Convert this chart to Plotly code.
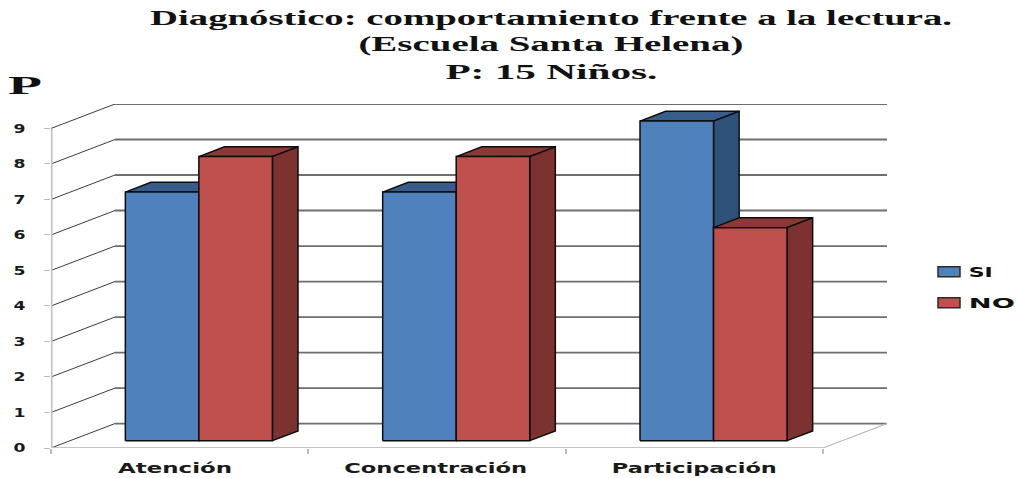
"""
Diagnostico chart: pseudo 3D clustered columns drawn from the data
"""

import json
import plotly.graph_objects as go

categories = ['Atención', 'Concentración', 'Participación']
si_values = [7, 7, 9]
no_values = [8, 8, 6]
y_ticks = [0, 1, 2, 3, 4, 5, 6, 7, 8, 9]

title_lines = [
    'Diagnóstico: comportamiento frente a la lectura.',
    '(Escuela Santa Helena)',
    'P: 15 Niños.',
]

# Page size and plot box in pixels
WIDTH, HEIGHT = 1018, 478
M_L, M_R, M_T, M_B = 51, 131, 104, 29.5

# Depth of the whole chart box, in axis units
DEPTH_X = 64 / 257.3
DEPTH_Y = 24.5 / 35.6
BAR_WIDTH = 1 / 3.5
BAR_MARGIN = (1 - 2 * BAR_WIDTH) / 2
BAR_FRONT = 0.3
BAR_BACK = 0.7

# The source picture is stretched sideways, so text gets stretched to these widths
TEXT_WIDTHS = {
    title_lines[0]: 802,
    title_lines[1]: 385,
    title_lines[2]: 212,
    'P': 34,
    'SI': 24,
    'NO': 46,
    categories[0]: 114,
    categories[1]: 183,
    categories[2]: 165,
}


def px_x(px):
    return (px - M_L) / (WIDTH - M_L - M_R)


def px_y(px):
    return (HEIGHT - M_B - px) / (HEIGHT - M_T - M_B)


def project(x, y, depth):
    return x + depth * DEPTH_X, y + depth * DEPTH_Y


def add_polygon(fig, points, fill, name):
    xs = [p[0] for p in points] + [points[0][0]]
    ys = [p[1] for p in points] + [points[0][1]]
    fig.add_trace(go.Scatter(
        x=xs, y=ys, mode='lines', fill='toself', fillcolor=fill,
        line=dict(color='#0d0d0d', width=1.5),
        name=name, showlegend=False, cliponaxis=False, hoverinfo='skip'
    ))


def add_line(fig, x0, y0, x1, y1, color, width):
    fig.add_trace(go.Scatter(
        x=[x0, x1], y=[y0, y1], mode='lines',
        line=dict(color=color, width=width),
        showlegend=False, cliponaxis=False, hoverinfo='skip'
    ))


def add_column(fig, left, value, front, top, side, name):
    right = left + BAR_WIDTH
    # top and side go first, the front face sits over their edges
    add_polygon(fig, [project(left, value, BAR_FRONT), project(left, value, BAR_BACK),
                      project(right, value, BAR_BACK), project(right, value, BAR_FRONT)], top, name)
    add_polygon(fig, [project(right, 0, BAR_FRONT), project(right, 0, BAR_BACK),
                      project(right, value, BAR_BACK), project(right, value, BAR_FRONT)], side, name)
    add_polygon(fig, [project(left, 0, BAR_FRONT), project(left, value, BAR_FRONT),
                      project(right, value, BAR_FRONT), project(right, 0, BAR_FRONT)], front, name)


def add_text(fig, text, x, y, family, size):
    fig.add_annotation(
        x=px_x(x), y=px_y(y), xref='paper', yref='paper', text=text, showarrow=False,
        xanchor='center', yanchor='middle',
        font=dict(family=family, size=size, color='#111111', weight='bold'),
    )


fig = go.Figure()
n_cat = len(categories)

# Walls
for tick in y_ticks:
    bx, by = project(0, tick, 1)
    add_line(fig, 0, tick, bx, by, '#3c3c3c', 1)
    ex, ey = project(n_cat, tick, 1)
    add_line(fig, bx, by, ex, ey, '#6e6e6e', 1.8)

fx, fy = project(n_cat, 0, 1)
add_line(fig, n_cat, 0, fx, fy, '#bdbdbd', 1.2)
add_line(fig, 0, 0, n_cat, 0, '#c4c4c4', 2)
add_line(fig, 0, 0, 0, max(y_ticks), '#bfbfbf', 3)

# Columns
for i in range(n_cat):
    add_column(fig, i + BAR_MARGIN, si_values[i], '#4f81bd', '#385d8a', '#2f527b', 'SI')
    add_column(fig, i + BAR_MARGIN + BAR_WIDTH, no_values[i], '#c0504d', '#8c3836', '#7b3230', 'NO')

fig.update_layout(
    width=WIDTH,
    height=HEIGHT,
    margin=dict(l=M_L, r=M_R, t=M_T, b=M_B),
    paper_bgcolor='white',
    plot_bgcolor='white',
    showlegend=False,
    xaxis=dict(
        automargin=False,
        range=[0, n_cat + DEPTH_X],
        tickmode='array',
        tickvals=[0.482, 1.495, 2.5],
        ticktext=categories,
        ticks='',
        showgrid=False,
        zeroline=False,
        tickfont=dict(family='DejaVu Sans', size=14, color='#1a1a1a', weight='bold'),
        ticklabelstandoff=10,
        minor=dict(tickmode='array', tickvals=list(range(n_cat + 1)), ticks='outside',
                   ticklen=5, tickcolor='#bdbdbd', tickwidth=1.5, showgrid=False),
    ),
    yaxis=dict(
        automargin=False,
        range=[0, max(y_ticks) + DEPTH_Y],
        tickmode='array',
        tickvals=y_ticks,
        ticks='outside',
        ticklen=6,
        tickcolor='#bdbdbd',
        showgrid=False,
        zeroline=False,
        tickfont=dict(family='DejaVu Sans', size=12, color='#1a1a1a', weight='bold'),
        ticklabelstandoff=16,
    ),
)

# Title lines
for text, y_pos in zip(title_lines, [18, 44, 72]):
    add_text(fig, text, 551, y_pos, 'Liberation Serif', 20)
add_text(fig, 'P', 25, 85.5, 'Liberation Serif', 26)

# Legend
for label, color, y_pos, x_pos in [('SI', '#4f81bd', 272, 980), ('NO', '#c0504d', 303, 992)]:
    fig.add_shape(type='rect', xref='paper', yref='paper', x0=px_x(938), x1=px_x(960),
                  y0=px_y(y_pos - 5), y1=px_y(y_pos + 5), fillcolor=color,
                  line=dict(color='#2b2b2b', width=1.5))
    add_text(fig, label, x_pos, y_pos, 'DejaVu Sans', 14)

# Stretch the texts sideways once plotly has drawn them
post_script = """
var widths = %s;
function stretchText() {
    document.querySelectorAll('.annotation-text, .xtick text, .ytick text').forEach(function (el) {
        var w = widths[el.textContent];
        if (!w && el.closest('.ytick')) { w = 12; }
        if (w) {
            el.setAttribute('textLength', w);
            el.setAttribute('lengthAdjust', 'spacingAndGlyphs');
        }
    });
}
document.body.style.margin = '0';
var gd = document.getElementById('{plot_id}');
gd.on('plotly_afterplot', stretchText);
stretchText();
setTimeout(stretchText, 50);
""" % json.dumps(TEXT_WIDTHS, ensure_ascii=False)

fig.write_html("out.html", config=dict(displayModeBar=False), post_script=post_script)
